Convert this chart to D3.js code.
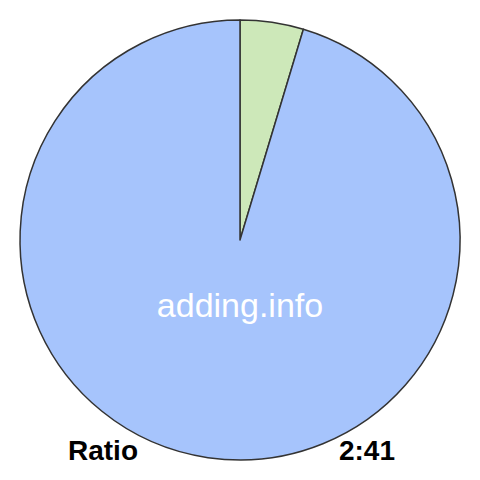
<!DOCTYPE html>
<html><head><meta charset="utf-8">
<script src="https://cdn.jsdelivr.net/npm/d3@7"></script>
<style>body{margin:0;background:#fff}svg{display:block}</style>
</head><body>
<svg id="c" width="480" height="480"></svg>
<script>
const categories = ["A", "B"];
const values = [2, 41];
const colors = ["#cde8b9", "#a6c4fc"];
const ratioLabel = "Ratio";
const ratioText = "2:41";
const watermark = "adding.info";

const svg = d3.select("#c");
const cx = 240, cy = 240, r = 220;
const pie = d3.pie().sort(null).value(d => d)(values);
const arc = d3.arc().innerRadius(0).outerRadius(r);
const g = svg.append("g").attr("transform", `translate(${cx},${cy})`);
g.selectAll("path").data(pie).join("path")
  .attr("d", arc)
  .attr("fill", (d, i) => colors[i])
  .attr("stroke", "#333")
  .attr("stroke-width", 1.5)
  .attr("stroke-linejoin", "round");

svg.append("text").attr("x", 240).attr("y", 317).attr("text-anchor", "middle")
  .attr("font-family", "Liberation Sans, Arial, sans-serif").attr("font-size", 34)
  .attr("fill", "#fff").text(watermark);
svg.append("text").attr("x", 68).attr("y", 460)
  .attr("font-family", "Liberation Sans, Arial, sans-serif").attr("font-size", 28).attr("font-weight", "bold")
  .attr("fill", "#000").text(ratioLabel);
svg.append("text").attr("x", 395).attr("y", 460).attr("text-anchor", "end")
  .attr("font-family", "Liberation Sans, Arial, sans-serif").attr("font-size", 28).attr("font-weight", "bold")
  .attr("fill", "#000").text(ratioText);
</script>
</body></html>
